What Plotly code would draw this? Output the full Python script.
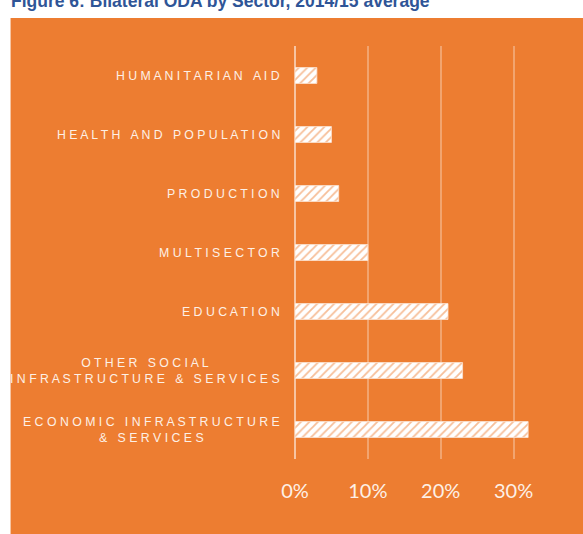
import plotly.graph_objects as go

categories = ["ECONOMIC INFRASTRUCTURE<br>& SERVICES",
              "OTHER SOCIAL<br>INFRASTRUCTURE & SERVICES",
              "EDUCATION", "MULTISECTOR", "PRODUCTION",
              "HEALTH AND POPULATION", "HUMANITARIAN AID"]
values = [0.32, 0.23, 0.21, 0.10, 0.06, 0.05, 0.03]
tick_vals = [0, 0.1, 0.2, 0.3]
tick_text = ["0%", "10%", "20%", "30%"]

ORANGE = "#ED7D31"
W, H = 583, 534
L, R, T, B = 295, 550.5, 46, 459


def spaced(s):
    lines = []
    for line in s.split("<br>"):
        words = [" ".join(list(w)) for w in line.split(" ")]
        lines.append("\u00a0\u00a0\u00a0".join(words))
    return "<br>".join(lines)


def px_x(p):
    return (p - L) / (R - L)


def px_y(p):
    return (B - p) / (B - T)


ids = list(range(len(categories)))

fig = go.Figure()
fig.add_trace(go.Bar(
    x=values, y=ids, orientation="h", width=0.27,
    marker=dict(color="white", line=dict(color="#FBE3D3", width=0.8),
                pattern=dict(shape="/", fgcolor=ORANGE, bgcolor="white",
                             size=6, solidity=0.3)),
    hoverinfo="skip",
))

annotations = []
for i, c in zip(ids, categories):
    annotations.append(dict(
        x=px_x(282), xref="paper", y=i, yref="y", text=spaced(c),
        showarrow=False, xanchor="right", yanchor="middle", align="center",
        font=dict(family="Arial, Liberation Sans", size=12.3, color="#FDF0E6"),
    ))
annotations.append(dict(
    x=px_x(8), xref="paper", y=px_y(1), yref="paper",
    text="<b>Figure 6: Bilateral ODA by Sector, 2014/15 average</b>",
    showarrow=False, xanchor="left", yanchor="middle",
    font=dict(family="Arial, Liberation Sans", size=17.5, color="#2F5597"),
))

fig.update_layout(
    width=W, height=H,
    margin=dict(l=L, r=W - R, t=T, b=H - B, pad=0),
    paper_bgcolor="white", plot_bgcolor="rgba(0,0,0,0)",
    showlegend=False,
    shapes=[dict(type="rect", xref="paper", yref="paper",
                 x0=px_x(10), x1=px_x(584), y0=px_y(535), y1=px_y(18),
                 fillcolor=ORANGE, line=dict(width=0), layer="below")],
    annotations=annotations,
    xaxis=dict(range=[0, 0.35], tickvals=tick_vals, ticktext=tick_text,
               showgrid=True, gridcolor="rgba(255,255,255,0.3)", gridwidth=1.5,
               zeroline=True, zerolinecolor="rgba(255,255,255,0.55)", zerolinewidth=1.5,
               showline=False, ticks="", ticklabelstandoff=18,
               tickfont=dict(family="Lato, Open Sans", size=20, color="#FDF0E6")),
    yaxis=dict(range=[-0.5, 6.5], showticklabels=False, showgrid=False,
               zeroline=False, showline=False, ticks=""),
)

fig.write_html("out.html")
